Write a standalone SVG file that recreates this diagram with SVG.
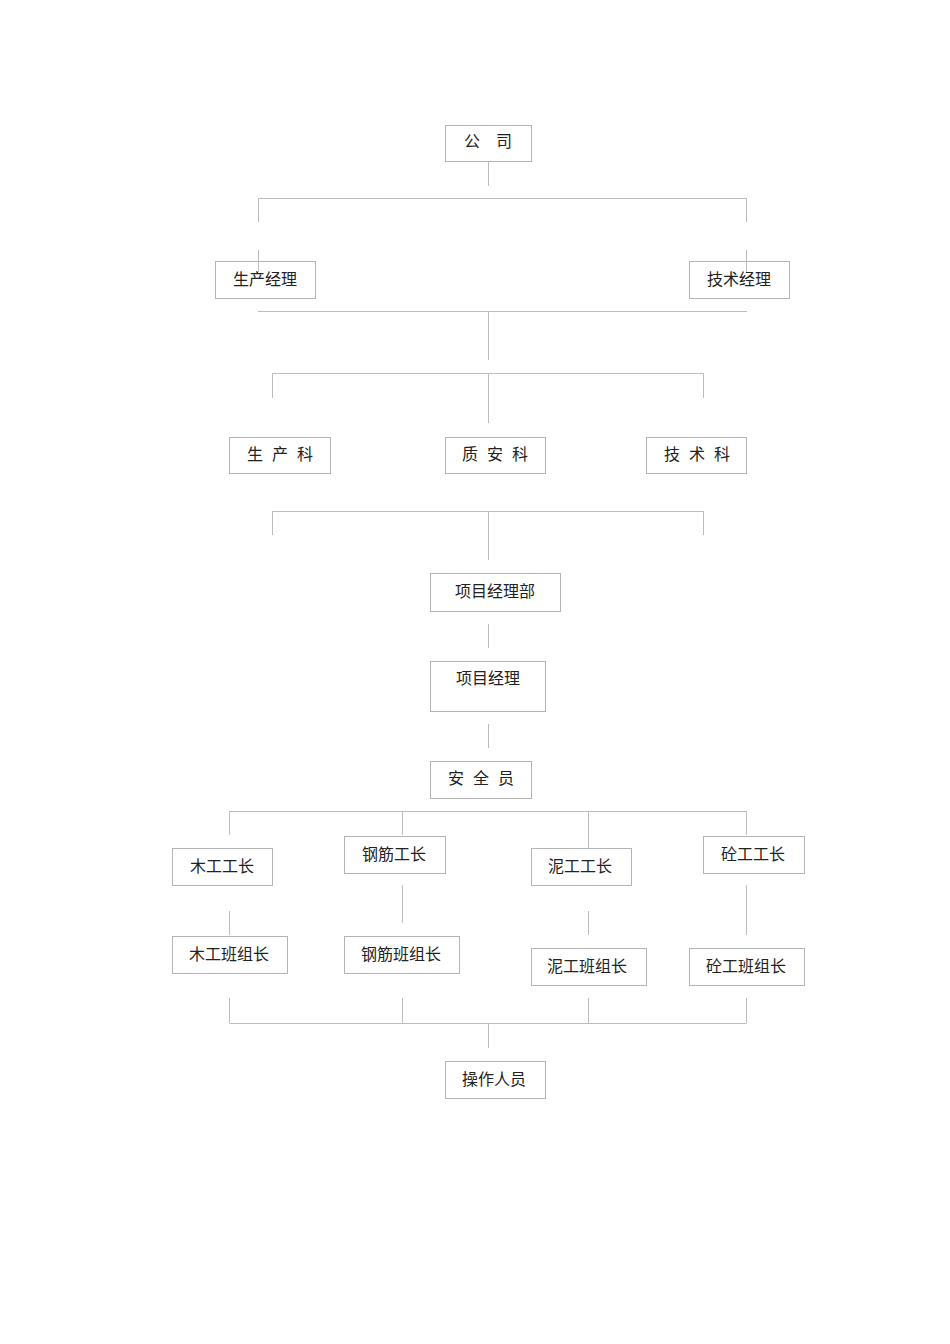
<svg xmlns="http://www.w3.org/2000/svg" width="950" height="1344" viewBox="0 0 950 1344">
<style>
.b{fill:none;stroke:#b4b4b4;stroke-width:1}
.t{font-family:"Noto Sans CJK SC","Liberation Sans",sans-serif;font-size:16px;fill:#222}
.s{letter-spacing:9px}
.c{stroke:#bcbcbc;stroke-width:1;fill:none}
</style>
<rect width="950" height="1344" fill="#fff"/>
<g id="connectors" class="c">
<path d="M488.5 161V186"/>
<path d="M258.5 198.5H746.5M258.5 198V222M746.5 198V222M258.5 250V272M746.5 250V272"/>
<path d="M258 311.5H747M488.5 311V360"/>
<path d="M272.5 373.5H703.5M272.5 373V398M703.5 373V398M488.5 373V423"/>
<path d="M272.5 511.5H703.5M272.5 511V535M703.5 511V535M488.5 511V560"/>
<path d="M488.5 624V648"/>
<path d="M488.5 724V748"/>
<path d="M229.5 811.5H746.5M229.5 811V835M402.5 811V835M588.5 811V848M746.5 811V835"/>
<path d="M229.5 911V935M402.5 885V923M588.5 911V935M746.5 885V935"/>
<path d="M229.5 998V1023M402.5 998V1023M588.5 998V1023M746.5 998V1023M229.5 1023.5H746.5M488.5 1023V1048"/>
</g>
<g id="n1"><rect class="b" x="445.5" y="125.5" width="86" height="36"/><text class="t" x="464" y="147">公　司</text></g>
<g id="n2"><rect class="b" x="215.5" y="261.5" width="100" height="37"/><text class="t" x="233" y="285">生产经理</text></g>
<g id="n3"><rect class="b" x="689.5" y="261.5" width="100" height="37"/><text class="t" x="707" y="285">技术经理</text></g>
<g id="n4"><rect class="b" x="229.5" y="437.5" width="101" height="36"/><text class="t s" x="247" y="460">生产科</text></g>
<g id="n5"><rect class="b" x="445.5" y="437.5" width="100" height="36"/><text class="t s" x="462" y="460">质安科</text></g>
<g id="n6"><rect class="b" x="646.5" y="437.5" width="100" height="36"/><text class="t s" x="664" y="460">技术科</text></g>
<g id="n7"><rect class="b" x="430.5" y="573.5" width="130" height="38"/><text class="t" x="455" y="597">项目经理部</text></g>
<g id="n8"><rect class="b" x="430.5" y="661.5" width="115" height="50"/><text class="t" x="456" y="684">项目经理</text></g>
<g id="n9"><rect class="b" x="430.5" y="761.5" width="101" height="37"/><text class="t s" x="448" y="784">安全员</text></g>
<g id="n10"><rect class="b" x="172.5" y="848.5" width="100" height="37"/><text class="t" x="190" y="872">木工工长</text></g>
<g id="n11"><rect class="b" x="344.5" y="836.5" width="101" height="37"/><text class="t" x="362" y="860">钢筋工长</text></g>
<g id="n12"><rect class="b" x="531.5" y="848.5" width="100" height="37"/><text class="t" x="548" y="872">泥工工长</text></g>
<g id="n13"><rect class="b" x="703.5" y="836.5" width="101" height="37"/><text class="t" x="721" y="860">砼工工长</text></g>
<g id="n14"><rect class="b" x="172.5" y="936.5" width="115" height="37"/><text class="t" x="189" y="960">木工班组长</text></g>
<g id="n15"><rect class="b" x="344.5" y="936.5" width="115" height="37"/><text class="t" x="361" y="960">钢筋班组长</text></g>
<g id="n16"><rect class="b" x="531.5" y="948.5" width="115" height="37"/><text class="t" x="547" y="972">泥工班组长</text></g>
<g id="n17"><rect class="b" x="689.5" y="948.5" width="115" height="37"/><text class="t" x="706" y="972">砼工班组长</text></g>
<g id="n18"><rect class="b" x="445.5" y="1061.5" width="100" height="37"/><text class="t" x="462" y="1085">操作人员</text></g>
</svg>
